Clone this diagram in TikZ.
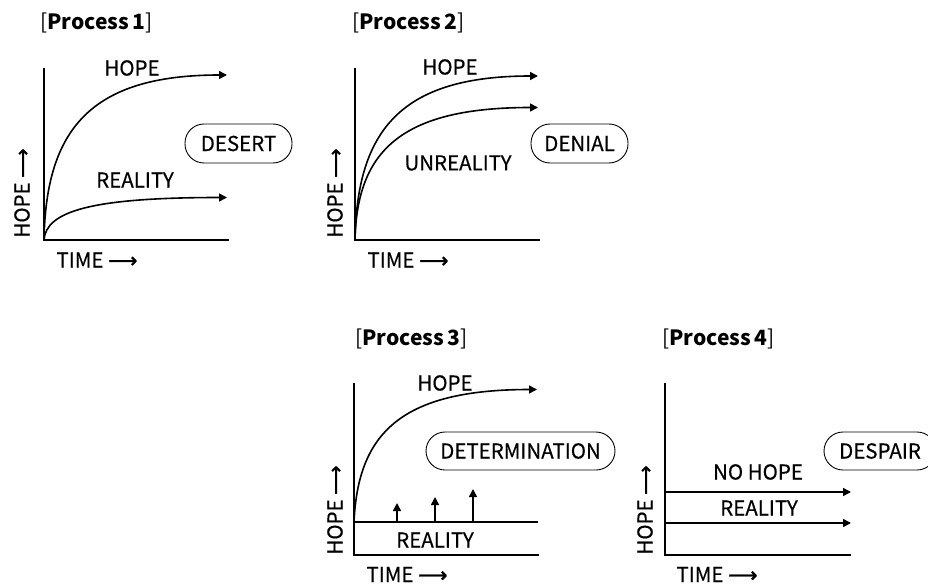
\documentclass[tikz,border=0pt]{standalone}
\usepackage{fontspec}
\setmainfont{Noto Sans CJK KR}[FakeBold=0.4]
\newfontfamily\ttlfont{Noto Sans CJK KR}
\newfontfamily\arrfont{DejaVu Sans}[FakeBold=1.5]
\usetikzlibrary{arrows.meta}
\newcommand{\rarr}{{\arrfont\char"27F6}}
\tikzset{
  axisline/.style={line width=1.6pt, line cap=rect},
  curve/.style={line width=1.6pt, -{Triangle[length=8pt,width=8pt]}},
  lbl/.style={font=\fontsize{20.5}{22}\selectfont, inner sep=0pt},
  ttl/.style={font=\ttlfont\fontsize{21}{24}\selectfont, inner sep=0pt, anchor=west},
  pill/.style={draw, line width=0.9pt, rounded corners=19pt, minimum height=39pt,
    font=\fontsize{20.5}{22}\selectfont, inner sep=0pt},
  vlbl/.style={font=\fontsize{20.5}{22}\selectfont, inner sep=0pt, rotate=90}
}
\begin{document}
\begin{tikzpicture}[x=1pt,y=-1pt]
\useasboundingbox (0,0) rectangle (928,586);

% ---------------- Process 1
\node[ttl] (t1) at (40,23) {[{\bfseries Process\,1}]};
\coordinate (o1) at (44,240);
\coordinate (ya1) at (44,69);
\coordinate (xa1) at (228,240);
\coordinate (h1) at (227,75);
\coordinate (r1) at (227,197.5);
\draw[axisline] (ya1) -- (o1) -- (xa1);
\draw[curve] (o1) .. controls (46,130) and (90,75) .. (h1);
\draw[curve] (o1) .. controls (46,211.6) and (90,197.5) .. (r1);
\node[lbl] (lh1) at (132,68) {HOPE};
\node[lbl] (lr1) at (135,180) {REALITY};
\node[pill, minimum width=107pt] (desert) at (238.5,143.5) {DESERT};
\node[vlbl] (vh1) at (22,193) {HOPE \rarr};
\node[lbl] (tm1) at (97,260) {TIME \rarr};

% ---------------- Process 2
\node[ttl] (t2) at (352,23) {[{\bfseries Process\,2}]};
\coordinate (o2) at (355,240);
\coordinate (ya2) at (355,69);
\coordinate (xa2) at (539,240);
\coordinate (h2) at (538,76);
\coordinate (u2) at (538,107.5);
\draw[axisline] (ya2) -- (o2) -- (xa2);
\draw[curve] (o2) .. controls (357,130) and (401,76) .. (h2);
\draw[curve] (o2) .. controls (357,151) and (401,107.5) .. (u2);
\node[lbl] (lh2) at (450,67) {HOPE};
\node[lbl] (lu2) at (458,163) {UNREALITY};
\node[pill, minimum width=97pt] (denial) at (579.5,143.5) {DENIAL};
\node[vlbl] (vh2) at (335,193) {HOPE \rarr};
\node[lbl] (tm2) at (408,260) {TIME \rarr};

% ---------------- Process 3
\node[ttl] (t3) at (355,338.5) {[{\bfseries Process\,3}]};
\coordinate (o3) at (354,555);
\coordinate (ya3) at (354,384);
\coordinate (xa3) at (538,555);
\coordinate (r3s) at (354,522);
\coordinate (r3e) at (538,522);
\coordinate (h3) at (537,389.5);
\draw[axisline] (ya3) -- (o3) -- (xa3);
\draw[line width=1.6pt] (r3s) -- (r3e);
\draw[curve] (r3s) .. controls (358,434) and (400,389.5) .. (h3);
\coordinate (a1s) at (397,522); \coordinate (a1e) at (397,503);
\coordinate (a2s) at (435,522); \coordinate (a2e) at (435,497);
\coordinate (a3s) at (473,522); \coordinate (a3e) at (473,489);
\draw[curve] (a1s) -- (a1e);
\draw[curve] (a2s) -- (a2e);
\draw[curve] (a3s) -- (a3e);
\node[lbl] (lh3) at (445,383) {HOPE};
\node[lbl] (lr3) at (435,540) {REALITY};
\node[pill, minimum width=189pt, minimum height=38pt] (determ) at (520.5,451) {DETERMINATION};
\node[vlbl] (vh3) at (335,510) {HOPE \rarr};
\node[lbl] (tm3) at (407,574.5) {TIME \rarr};

% ---------------- Process 4
\node[ttl] (t4) at (662,339) {[{\bfseries Process\,4}]};
\coordinate (o4) at (665,555);
\coordinate (ya4) at (665,384);
\coordinate (xa4) at (850,555);
\coordinate (n4s) at (665,492); \coordinate (n4e) at (851,492);
\coordinate (r4s) at (665,523); \coordinate (r4e) at (851,523);
\draw[axisline] (ya4) -- (o4) -- (xa4);
\draw[curve] (n4s) -- (n4e);
\draw[curve] (r4s) -- (r4e);
\node[lbl] (ln4) at (758,472) {NO HOPE};
\node[lbl] (lr4) at (759,508) {REALITY};
\node[pill, minimum width=112pt, minimum height=38pt] (despair) at (880,451) {DESPAIR};
\node[vlbl] (vh4) at (645,510) {HOPE \rarr};
\node[lbl] (tm4) at (717,574.5) {TIME \rarr};
\end{tikzpicture}
\end{document}
